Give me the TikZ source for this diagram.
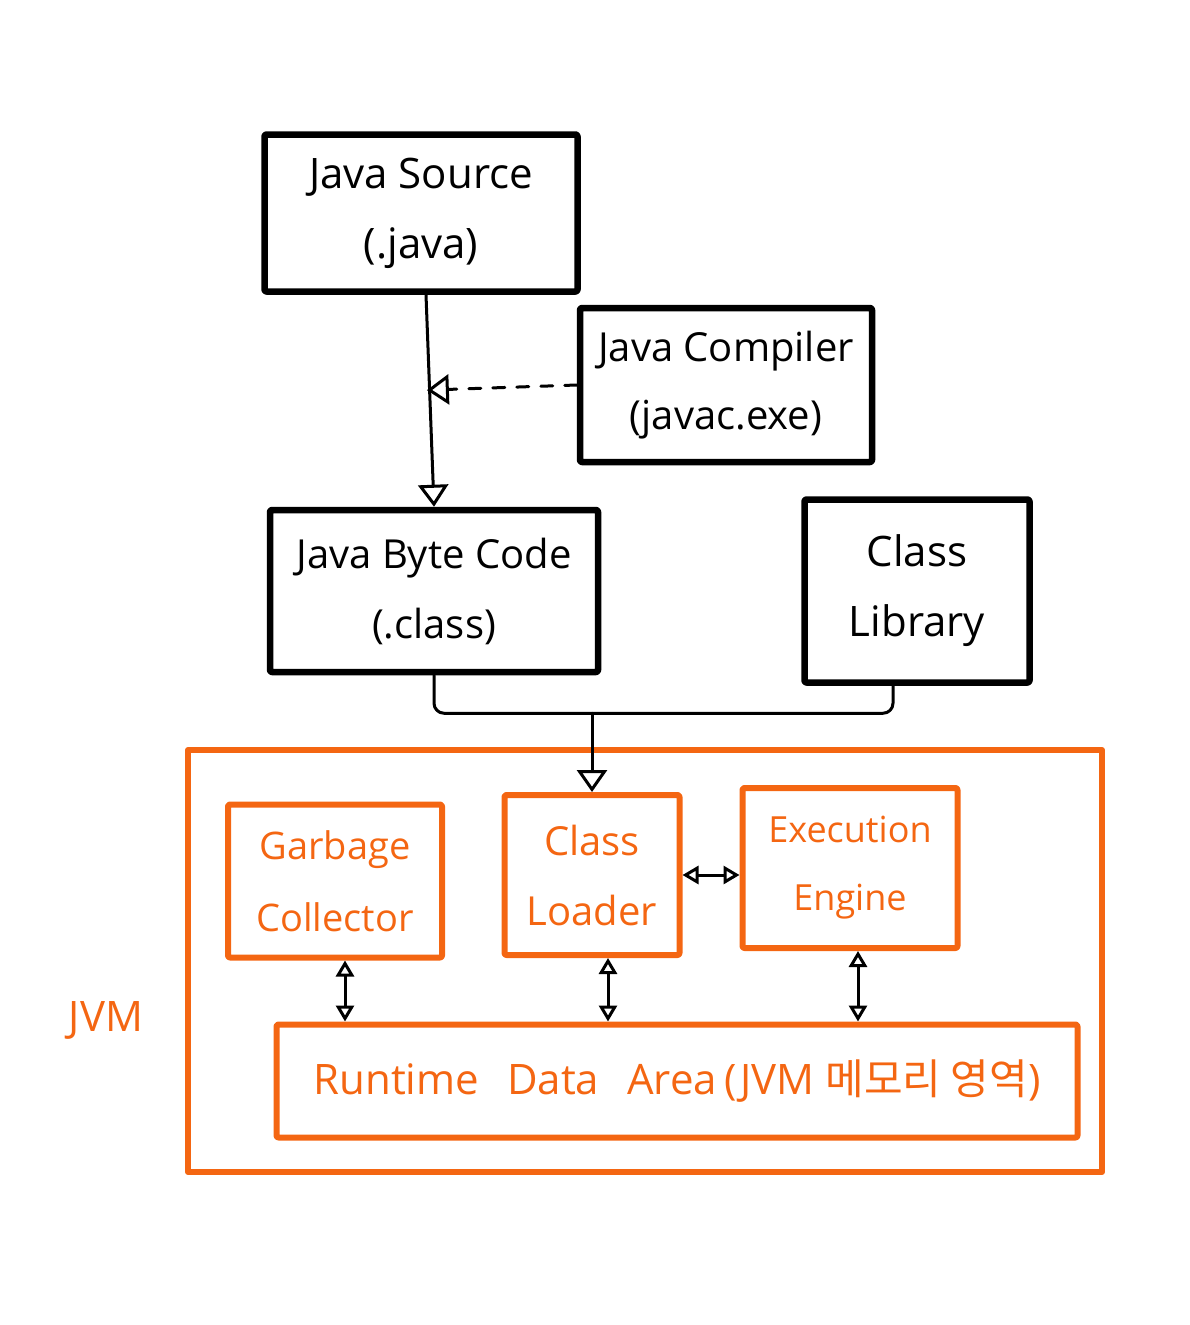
\documentclass[tikz,border=0pt]{standalone}
\usepackage{fontspec}
\setmainfont{Open Sans}
\newfontfamily\kr{Noto Sans CJK KR}
\usetikzlibrary{arrows.meta,calc}
\definecolor{jvmorange}{RGB}{244,102,18}
\tikzset{
  blackbox/.style={draw=black, line width=6.5pt, line join=round, rounded corners=2pt,
    align=center, inner sep=0pt, font=\fontsize{42}{70}\selectfont},
  orangebox/.style={draw=jvmorange, line width=6pt, line join=round, rounded corners=2pt,
    align=center, inner sep=0pt, text=jvmorange, font=\fontsize{38}{72}\selectfont},
  conn/.style={draw=black, line width=3pt, line cap=round, line join=round},
  arrowto/.style={conn, -{Triangle[open, length=22pt, width=30pt, line width=3pt]}},
  darrow/.style={conn, {Triangle[open, length=16pt, width=18pt, line width=3pt]}-{Triangle[open, length=16pt, width=18pt, line width=3pt]}},
}
\begin{document}
\begin{tikzpicture}[x=1pt, y=-1pt]
\useasboundingbox (0,0) rectangle (1189,1325);
% upper black boxes
\node[blackbox, minimum width=313pt, minimum height=157pt] (src) at (421,213) {Java Source\\(.java)};
\node[blackbox, minimum width=292pt, minimum height=154pt, font=\fontsize{40}{68}\selectfont] (comp) at (726,385) {Java Compiler\\(javac.exe)};
\node[blackbox, minimum width=328pt, minimum height=162pt, font=\fontsize{40}{70}\selectfont] (byte) at (434,591) {Java Byte Code\\(.class)};
\node[blackbox, minimum width=225pt, minimum height=183pt] (lib) at (917,591) {Class\\Library};
% JVM
\node[draw=jvmorange, line width=6pt, line join=round, minimum width=914pt, minimum height=422pt, inner sep=0pt] (jvm) at (645,961) {};
\node[text=jvmorange, font=\fontsize{42}{48}\selectfont] (jvmlabel) at (106,1020) {JVM};
\node[orangebox, minimum width=214pt, minimum height=153pt] (gc) at (335,881) {Garbage\\Collector};
\node[orangebox, minimum width=175pt, minimum height=160pt, font=\fontsize{40}{70}\selectfont] (cl) at (592,875) {Class\\Loader};
\node[orangebox, minimum width=215pt, minimum height=160pt, font=\fontsize{36}{68}\selectfont] (ee) at (850,868) {Execution\\Engine};
\node[orangebox, minimum width=801pt, minimum height=113pt, font=\fontsize{42}{48}\selectfont] (rda) at (677,1081) {Runtime\hspace{28pt}Data\hspace{28pt}Area\,(JVM {\kr 메모리 영역})};
% connectors
\draw[arrowto] ($(src.south)+(5,0)$) -- (byte.north);
\coordinate (mid) at ($(src.south)!0.45!(byte.north)$);
\draw[arrowto, dash pattern=on 12pt off 12pt] (comp.west) -- (mid);
\coordinate (bar) at ($(byte.south)+(0,38)$);
\draw[conn, rounded corners=10pt] (byte.south) -- (bar) -| ($(lib.south)+(-24,0)$);
\draw[arrowto] (cl.north |- bar) -- (cl.north);
\draw[darrow] (cl.east) -- (cl.east -| ee.west);
\draw[darrow] ($(gc.south)+(10,0)$) -- ($(gc.south |- rda.north)+(10,0)$);
\draw[darrow] ($(cl.south)+(16,0)$) -- ($(cl.south |- rda.north)+(16,0)$);
\draw[darrow] ($(ee.south)+(8,0)$) -- ($(ee.south |- rda.north)+(8,0)$);
\end{tikzpicture}
\end{document}
